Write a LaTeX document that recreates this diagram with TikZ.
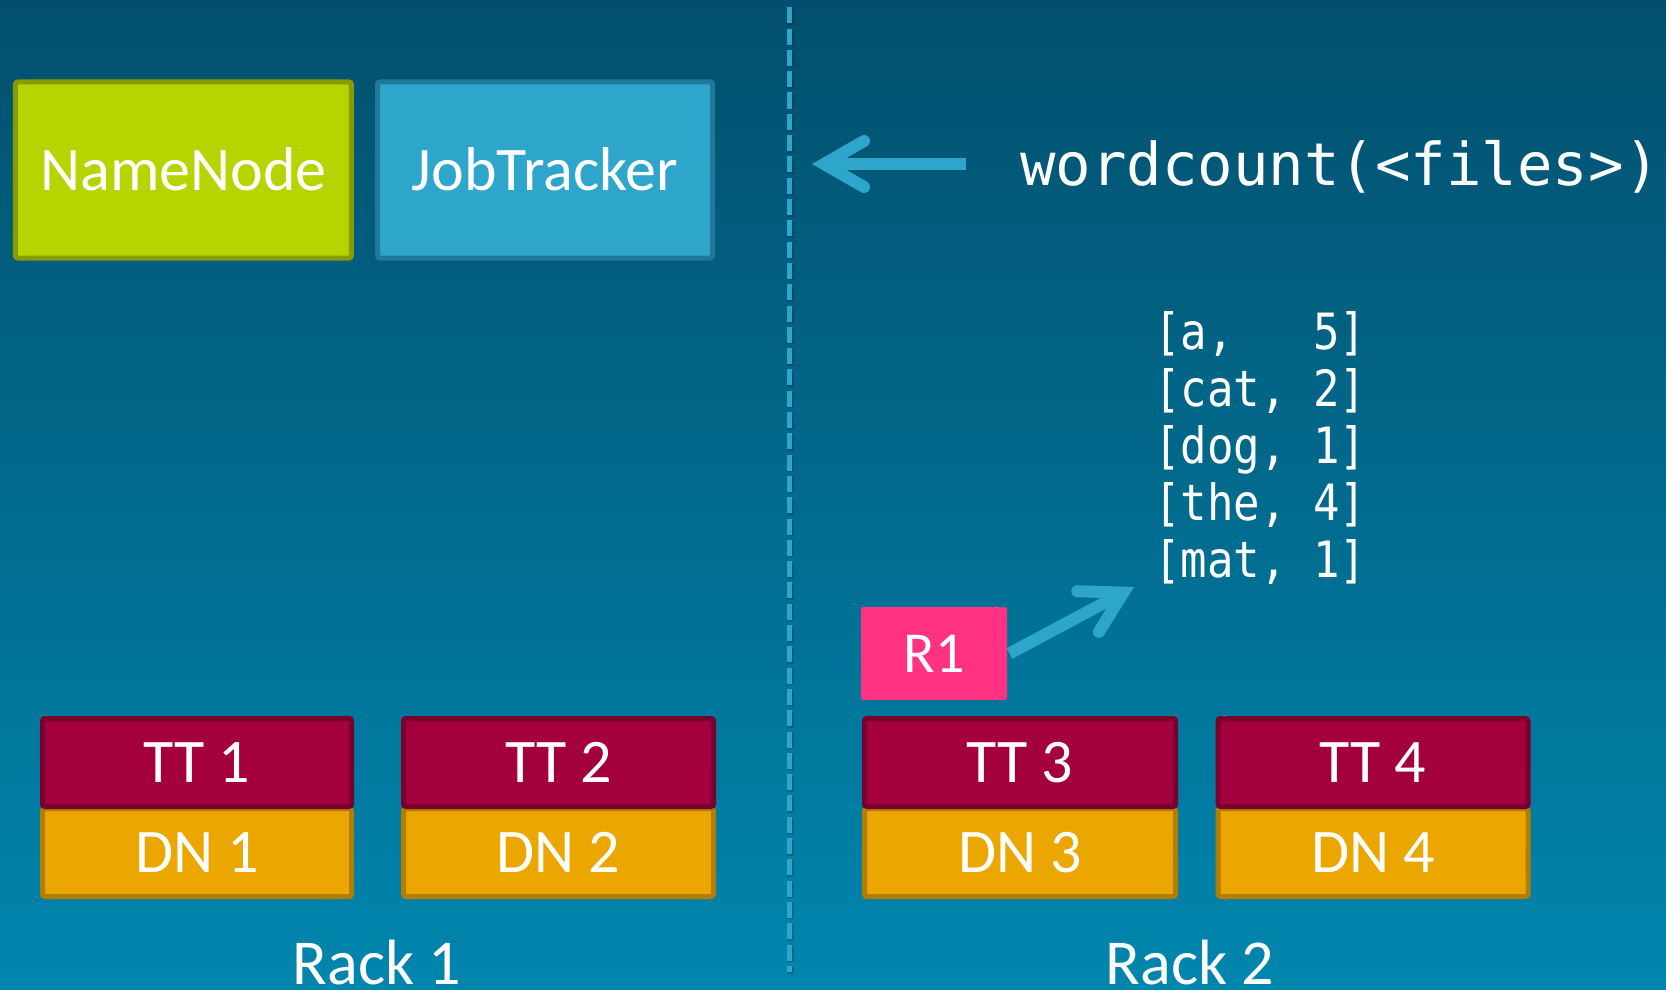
\documentclass[tikz,border=0pt]{standalone}
\usepackage{fontspec}
\setmainfont{Carlito}
\newfontfamily\codefont{DejaVu Sans Mono}
\newfontfamily\pairfont[FakeStretch=0.88]{DejaVu Sans Mono}
\usetikzlibrary{arrows.meta}

\definecolor{bgtop}{RGB}{2,79,109}
\definecolor{bgbottom}{RGB}{1,134,174}
\definecolor{sky}{RGB}{46,166,204}
\definecolor{skyD}{RGB}{33,121,154}
\definecolor{lime}{RGB}{182,212,0}
\definecolor{limeD}{RGB}{136,156,0}
\definecolor{wine}{RGB}{165,0,62}
\definecolor{wineD}{RGB}{120,0,44}
\definecolor{amber}{RGB}{235,167,0}
\definecolor{amberD}{RGB}{178,126,0}
\definecolor{hotpink}{RGB}{255,51,129}

\tikzset{
  box/.style={rectangle, rounded corners=2.5pt, line width=5pt, inner sep=0pt,
    text=white, font={\fontsize{62pt}{70pt}\selectfont},
    text height=40pt, text depth=0pt},
  master/.style={box, minimum width=336pt, minimum height=176pt},
  tracker/.style={box, fill=wine, draw=wineD, minimum height=88pt},
  datanode/.style={box, fill=amber, draw=amberD, minimum height=88pt},
  rack/.style={text=white, inner sep=0pt, anchor=base,
    font={\fontsize{64pt}{70pt}\selectfont}},
  pair/.style={text=white, inner sep=0pt, anchor=base west,
    font={\pairfont\fontsize{50pt}{57pt}\selectfont}},
  callarrow/.style={draw=sky, line width=12pt,
    -{Straight Barb[length=40pt, width=46pt, line cap=round, line join=miter]}},
  divider/.style={draw=sky, line width=5pt, dash pattern=on 16pt off 5.3pt},
}

\begin{document}
\begin{tikzpicture}[x=1pt, y=-1pt]
  % background
  \shade[top color=bgtop, bottom color=bgbottom] (0,0) rectangle (1666,990);
  \useasboundingbox (0,0) rectangle (1666,990);

  % rack divider with its faint shadow
  \draw[black, opacity=0.18, line width=7pt, dash pattern=on 16pt off 5.3pt]
    (790.5,8.8) -- (790.5,973.5);
  \draw[divider] (789.3,7.3) -- (789.3,972);

  % masters
  \node[master, fill=lime, draw=limeD] (nn) at (183.4,170) {NameNode};
  \node[master, fill=sky, draw=skyD, minimum width=335pt] (jt) at (545,170) {JobTracker};

  % client call
  \node[text=white, inner sep=0pt, anchor=base west,
        font={\codefont\fontsize{59pt}{66pt}\selectfont}] (wc) at (1020,185)
        {wordcount(<files>)};
  \coordinate (callFrom) at (966,164);
  \coordinate (callTip) at (812,164);
  \draw[callarrow] (callFrom) -- (callTip);

  % rack 1
  \node[datanode, minimum width=309pt] (dn1) at (197,852.5) {DN 1};
  \node[tracker, minimum width=309pt] (tt1) at (197,762.5) {TT 1};
  \node[datanode, minimum width=310pt] (dn2) at (558.5,852.5) {DN 2};
  \node[tracker, minimum width=310pt] (tt2) at (558.5,762.5) {TT 2};

  % rack 2
  \node[datanode, minimum width=311pt] (dn3) at (1020,852.5) {DN 3};
  \node[tracker, minimum width=311pt] (tt3) at (1020,762.5) {TT 3};
  \node[datanode, minimum width=310pt] (dn4) at (1373,852.5) {DN 4};
  \node[tracker, minimum width=310pt] (tt4) at (1373,762.5) {TT 4};

  \node[rack] (rack1) at (377,984) {Rack 1};
  \node[rack] (rack2) at (1190,984) {Rack 2};

  % reducer and its output
  \node[box, fill=hotpink, draw=none, minimum width=146pt, minimum height=93pt,
        font={\fontsize{58pt}{66pt}\selectfont}, text height=37.4pt]
        (r1) at (934,653.5) {R1};

  \node[pair] (kv1) at (1154,349) {[a,\ \ \ 5]};
  \node[pair] (kv2) at (1154,406) {[cat,\ 2]};
  \node[pair] (kv3) at (1154,463) {[dog,\ 1]};
  \node[pair] (kv4) at (1154,520) {[the,\ 4]};
  \node[pair] (kv5) at (1154,577) {[mat,\ 1]};

  \coordinate (outTip) at (1134,587);
  \draw[callarrow] (r1.east) -- (outTip);
\end{tikzpicture}
\end{document}
